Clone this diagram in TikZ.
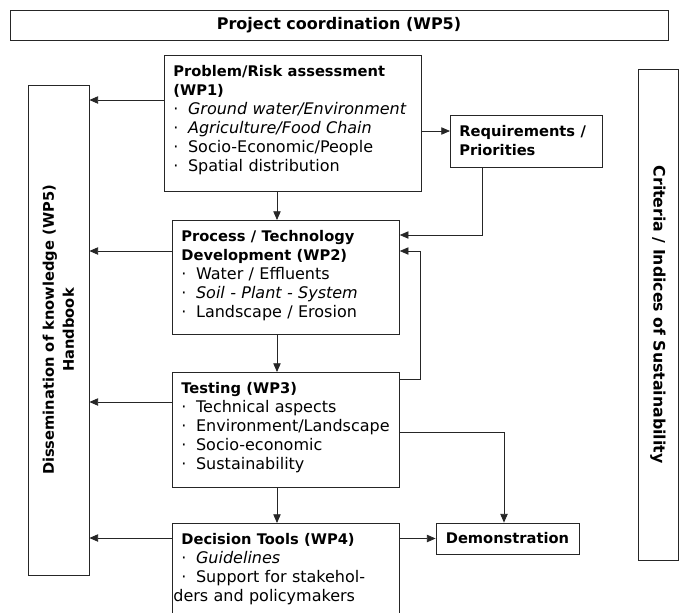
\documentclass[tikz,border=0pt]{standalone}
\usepackage{fontspec}
\setmainfont{DejaVu Sans}
\usetikzlibrary{arrows.meta}

\newcommand{\hd}[1]{{\fontsize{11}{14.25}\selectfont\bfseries #1}}
\newcommand{\bul}{·\hspace{.6em}}

\begin{document}
\begin{tikzpicture}[
    x=0.75pt, y=-0.75pt,
    >={Triangle[length=6.5pt,width=5.5pt]},
    every node/.style={font=\fontsize{12}{14.25}\selectfont},
    wpbox/.style={draw=black!85, line width=0.6pt, anchor=north west, align=left,
        inner xsep=6.75pt, inner ysep=7pt, text height=8.75pt},
    tagbox/.style={draw=black!85, line width=0.6pt, font=\fontsize{11}{15}\selectfont\bfseries},
    arr/.style={->, draw=black!85, line width=0.6pt}
]
    \useasboundingbox (0,0) rectangle (683,612);
    \clip (0,0) rectangle (683,612);

    % frame boxes
    \node[tagbox, minimum width=493.5pt, minimum height=22.5pt, font=\fontsize{12}{15}\selectfont\bfseries]
        (coord) at (339,25) {Project coordination (WP5)};
    \node[tagbox, minimum width=45.75pt, minimum height=367.5pt] (diss) at (58.5,330) {};
    \node[rotate=90, align=center, font=\fontsize{11}{15}\selectfont\bfseries] (disstext) at (diss.center)
        {Dissemination of knowledge (WP5)\\Handbook};
    \node[tagbox, minimum width=30pt, minimum height=368.25pt] (crit) at (658,314.5) {};
    \node[rotate=-90, font=\fontsize{11.8}{15}\selectfont\bfseries] (crittext) at (crit.center)
        {Criteria / Indices of Sustainability};

    % work packages
    \node[wpbox, text width=179.25pt, text depth=79.25pt] (wp1) at (164,55)
        {\hd{Problem/Risk assessment}\\ \hd{(WP1)}\\ \bul\textit{Ground water/Environment}\\
         \bul\textit{Agriculture/Food Chain}\\ \bul Socio-Economic/People\\ \bul Spatial distribution};
    \node[wpbox, text width=100.5pt, text depth=16.25pt] (req) at (450,115)
        {\hd{Requirements /}\\ \hd{Priorities}};
    \node[wpbox, text width=156.75pt, text depth=62.75pt] (wp2) at (172,220)
        {\hd{Process / Technology}\\ \hd{Development (WP2)}\\ \bul Water / Effluents\\
         \bul\textit{Soil - Plant - System}\\ \bul Landscape / Erosion};
    \node[wpbox, text width=156.75pt, text depth=63.5pt] (wp3) at (172,372)
        {\hd{Testing (WP3)}\\ \bul Technical aspects\\ \bul Environment/Landscape\\
         \bul Socio-economic\\ \bul Sustainability};
    \node[wpbox, text width=156.75pt, text depth=80pt] (wp4) at (172,523)
        {\hd{Decision Tools (WP4)}\\ \bul\textit{Guidelines}\\ \bul Support for stakehol-\\
         \hspace*{-6pt}ders and policymakers};
    \node[tagbox, minimum width=107.25pt, minimum height=23.25pt] (demo) at (507.5,538.5) {Demonstration};

    % flow down the chain
    \coordinate (spine) at (277,0);
    \draw[arr] (wp1.south -| spine) -- (wp2.north -| spine);
    \draw[arr] (wp2.south -| spine) -- (wp3.north -| spine);
    \draw[arr] (wp3.south -| spine) -- (wp4.north -| spine);

    % dissemination
    \draw[arr] (wp1.west |- 0,100) -- (diss.east |- 0,100);
    \draw[arr] (wp2.west |- 0,251) -- (diss.east |- 0,251);
    \draw[arr] (wp3.west |- 0,402) -- (diss.east |- 0,402);
    \draw[arr] (wp4.west |- 0,538) -- (diss.east |- 0,538);

    % requirements and feedback
    \coordinate (loopback) at (420,251);
    \draw[arr] (wp1.east |- 0,131) -- (req.west |- 0,131);
    \draw[arr] (req.south -| 482,0) |- (wp2.east |- 0,235);
    \draw[arr] (wp3.east |- 0,379) -| (loopback) -- (wp2.east |- loopback);
    \draw[arr] (wp3.east |- 0,432) -| (demo.north -| 504,0);
    \draw[arr] (wp4.east |- demo.west) -- (demo.west);
\end{tikzpicture}
\end{document}
